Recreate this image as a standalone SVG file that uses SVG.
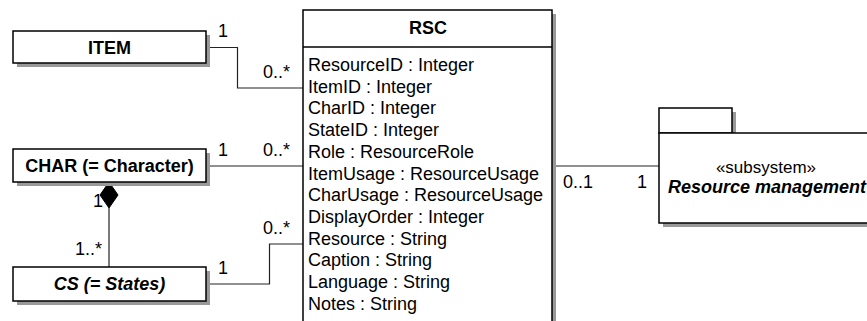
<svg xmlns="http://www.w3.org/2000/svg" width="867" height="321" viewBox="0 0 867 321">
<style>
text{font-family:"Liberation Sans",Arial,sans-serif;font-size:18px;fill:#000}
.b{font-weight:bold}
.bi{font-weight:bold;font-style:italic}
.box{fill:#fff;stroke:#000;stroke-width:1.5}
.sh{fill:#999;stroke:none}
.c{fill:none;stroke:#222;stroke-width:1.2}
.m{text-anchor:middle}
.s{font-size:17px}
</style>
<rect width="867" height="321" fill="#fff"/>
<g id="connectors">
<polyline class="c" points="206,47.5 237.5,47.5 237.5,88 303,88"/>
<line class="c" x1="206" y1="166" x2="303" y2="166"/>
<polyline class="c" points="206,284 269.5,284 269.5,244 303,244"/>
<line class="c" x1="552" y1="166" x2="659" y2="166"/>
<line class="c" x1="109" y1="208" x2="109" y2="267"/>
<polygon points="109,182 118,195 109,208 100,195" fill="#000" stroke="#000" stroke-width="1"/>
<text x="218" y="37">1</text>
<text x="263" y="78">0..*</text>
<text x="218" y="156">1</text>
<text x="263" y="156">0..*</text>
<text x="218" y="274">1</text>
<text x="263" y="234">0..*</text>
<text x="93" y="207">1</text>
<text x="75" y="255">1..*</text>
<text x="563" y="188">0..1</text>
<text x="637" y="188">1</text>
</g>
<g id="ITEM">
<rect class="sh" x="17" y="35" width="193" height="32"/>
<rect class="box" x="13" y="31" width="193" height="32"/>
<text class="b m" x="109.5" y="53.5">ITEM</text>
</g>
<g id="CHAR">
<rect class="sh" x="17" y="153" width="193" height="33"/>
<rect class="box" x="13" y="149" width="193" height="33"/>
<text class="b m" x="109.5" y="171.5">CHAR (= Character)</text>
</g>
<g id="CS">
<rect class="sh" x="17" y="271" width="193" height="34"/>
<rect class="box" x="13" y="267" width="193" height="34"/>
<text class="bi m" x="109.5" y="290">CS (= States)</text>
</g>
<g id="RSC">
<rect class="sh" x="307" y="14" width="249" height="330"/>
<rect class="box" x="303" y="10" width="249" height="330"/>
<line x1="303" y1="47" x2="552" y2="47" stroke="#000" stroke-width="1.5"/>
<text class="b m" x="428" y="34">RSC</text>
<text x="308" y="71">ResourceID : Integer</text>
<text x="308" y="92.7">ItemID : Integer</text>
<text x="308" y="114.4">CharID : Integer</text>
<text x="308" y="136.1">StateID : Integer</text>
<text x="308" y="157.8">Role : ResourceRole</text>
<text x="308" y="179.5">ItemUsage : ResourceUsage</text>
<text x="308" y="201.2">CharUsage : ResourceUsage</text>
<text x="308" y="222.9">DisplayOrder : Integer</text>
<text x="308" y="244.6">Resource : String</text>
<text x="308" y="266.3">Caption : String</text>
<text x="308" y="288">Language : String</text>
<text x="308" y="309.7">Notes : String</text>
</g>
<g id="ResourceManagement">
<rect class="sh" x="663" y="112" width="73" height="25"/>
<rect class="sh" x="663" y="137" width="230" height="90"/>
<rect class="box" x="659" y="108" width="73" height="25"/>
<rect class="box" x="659" y="133" width="230" height="90"/>
<text class="m s" x="766" y="173">«subsystem»</text>
<text class="bi m" x="767" y="193">Resource management</text>
</g>
</svg>
